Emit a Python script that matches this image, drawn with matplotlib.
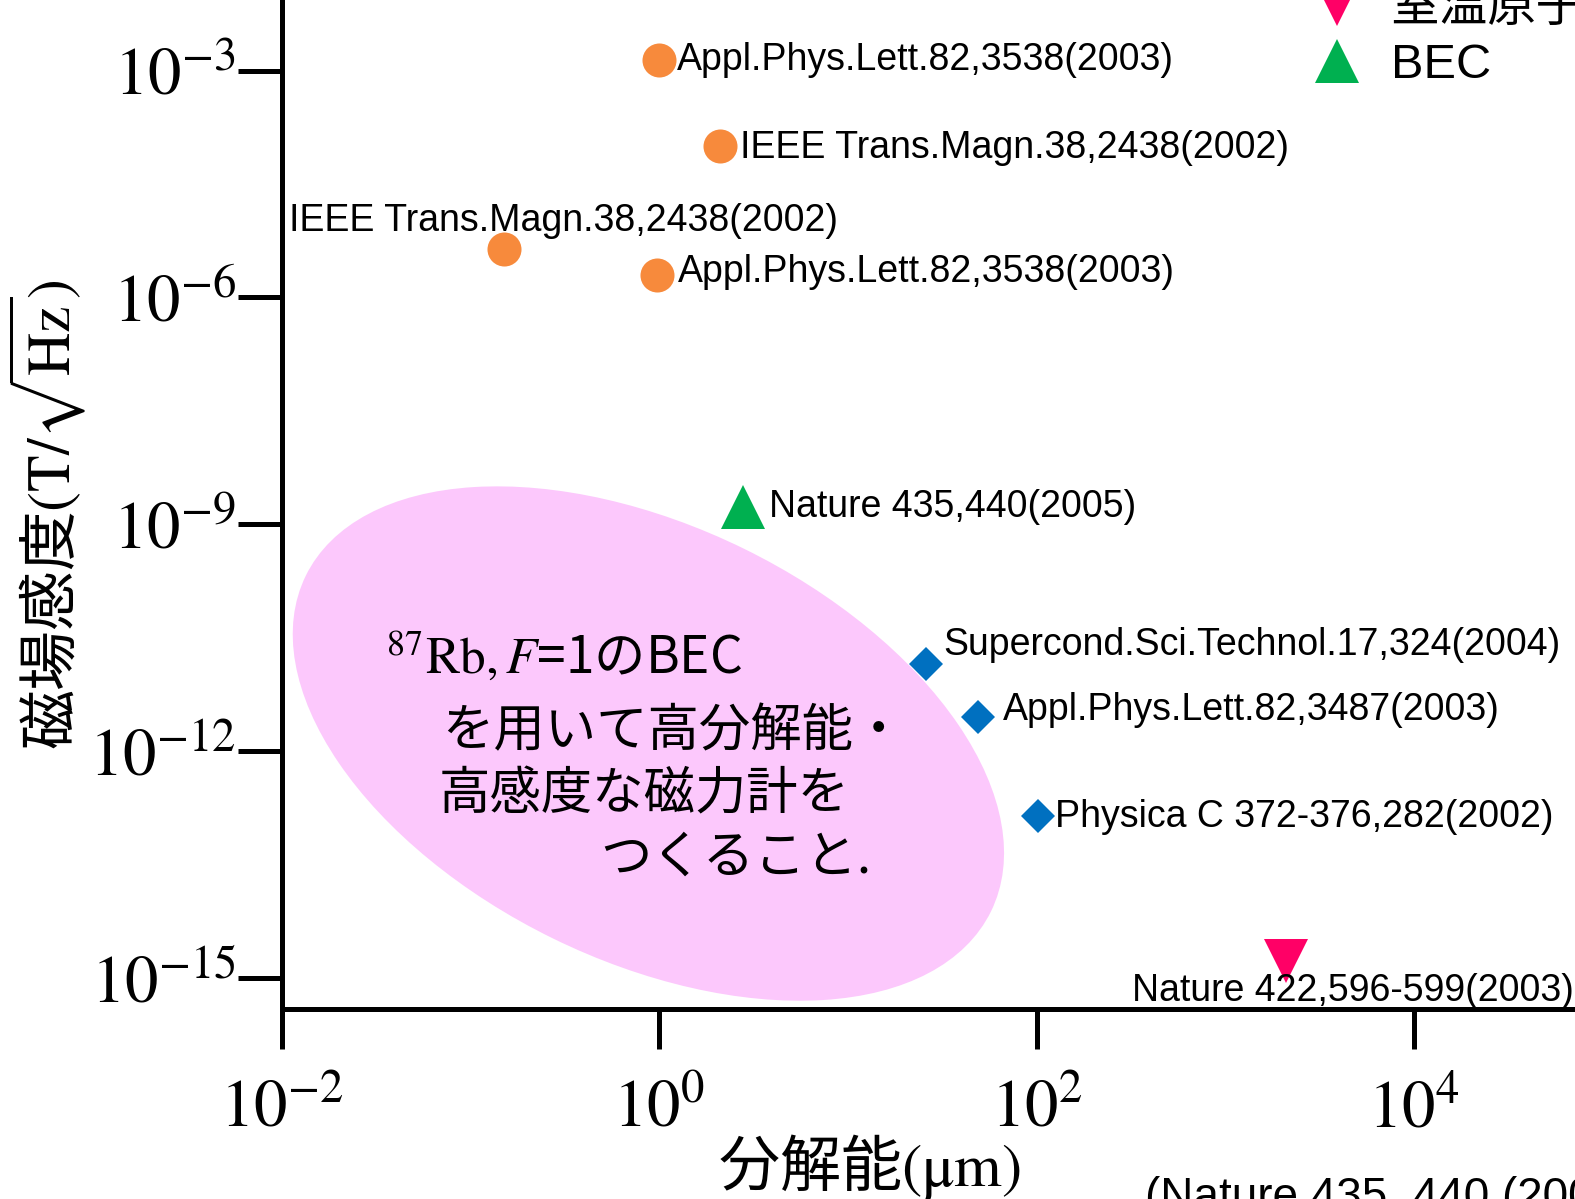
import matplotlib
matplotlib.use("Agg")
import matplotlib.pyplot as plt
import numpy as np
from matplotlib.patches import Ellipse
from matplotlib.transforms import ScaledTranslation
from matplotlib.ticker import FixedLocator, FuncFormatter, NullLocator

plt.rcParams['font.family'] = ['Liberation Sans', 'Noto Sans CJK JP']
plt.rcParams['mathtext.fontset'] = 'stix'

# --- データ ---
# SQUID / ホール素子など (オレンジ丸)
orange_x = [1.0, 2.1, 0.15, 0.97]
orange_y = [1.4e-3, 1.0e-4, 4.4e-6, 2.0e-6]
orange_ref = ["Appl.Phys.Lett.82,3538(2003)", "IEEE Trans.Magn.38,2438(2002)",
              "IEEE Trans.Magn.38,2438(2002)", "Appl.Phys.Lett.82,3538(2003)"]

# 青ダイヤ
blue_x = [26, 49, 102]
blue_y = [1.4e-11, 2.8e-12, 1.4e-13]
blue_ref = ["Supercond.Sci.Technol.17,324(2004)", "Appl.Phys.Lett.82,3487(2003)",
            "Physica C 372-376,282(2002)"]

# BEC (緑三角)
bec_x = [2.76]
bec_y = [1.7e-9]
bec_ref = ["Nature 435,440(2005)"]

# 室温原子 (ピンク逆三角)
room_x = [2100]
room_y = [1.7e-15]
room_ref = ["Nature 422,596-599(2003)"]

x_ticks = [1e-2, 1e0, 1e2, 1e4]
y_ticks = [1e-3, 1e-6, 1e-9, 1e-12, 1e-15]

# ラベルのずらし量 (points)
orange_off = [(13, 0), (14, -1), (-155, 20), (15, 2)]
blue_off = [(12, 14), (18, 5), (12, -1)]
bec_off = [(19, 0)]
room_off = [(-111, -22)]

fig = plt.figure(figsize=(15.75, 11.99), dpi=100)
ax = fig.add_axes([0.179, 0.1585, 0.8387, 0.8457])
ax.set_xscale('log')
ax.set_yscale('log')
ax.set_xlim(1e-2, 1e5)
ax.set_ylim(10 ** -15.41, 1e-2)

# 楕円 (目標領域)
cx, cy = 10 ** -0.058, 10 ** -11.90
ell = Ellipse((0, 0), 7.63, 4.34, angle=-26.1, facecolor='#FCC8FC', edgecolor='none',
              transform=fig.dpi_scale_trans + ScaledTranslation(cx, cy, ax.transData),
              zorder=0)
ax.add_patch(ell)

ax.plot(orange_x, orange_y, 'o', color='#F78A3C', markersize=24.5, markeredgewidth=0, zorder=3)
ax.plot(blue_x, blue_y, 'D', color='#0070C0', markersize=17, markeredgewidth=0, zorder=3)
ax.plot(room_x, room_y, 'v', color='#FF0066', markersize=31, markeredgewidth=0, zorder=3,
        label='室温原子')
ax.plot(bec_x, bec_y, '^', color='#00B050', markersize=31, markeredgewidth=0, zorder=3,
        label='BEC')

for xs, ys, refs, offs in [(orange_x, orange_y, orange_ref, orange_off),
                           (blue_x, blue_y, blue_ref, blue_off),
                           (bec_x, bec_y, bec_ref, bec_off),
                           (room_x, room_y, room_ref, room_off)]:
    for x, y, r, o in zip(xs, ys, refs, offs):
        ax.annotate(r, (x, y), xytext=o, textcoords='offset points',
                    ha='left', va='center', fontsize=27, zorder=4)

# 楕円の中の文章
cjk = 'Noto Sans CJK JP'
ax.text(0.079, 0.345, r"$^{87}\mathrm{Rb},\mathit{F}$=1のBEC", transform=ax.transAxes,
        ha='left', va='center', fontsize=37, fontfamily=cjk)
ax.text(0.121, 0.274, "を用いて高分解能・", transform=ax.transAxes,
        ha='left', va='center', fontsize=37, fontfamily=cjk)
ax.text(0.1185, 0.211, "高感度な磁力計を", transform=ax.transAxes,
        ha='left', va='center', fontsize=37, fontfamily=cjk)
ax.text(0.241, 0.1485, "つくること.", transform=ax.transAxes,
        ha='left', va='center', fontsize=37, fontfamily=cjk)

# 軸
for s in ['top', 'right']:
    ax.spines[s].set_visible(False)
for s in ['left', 'bottom']:
    ax.spines[s].set_linewidth(3.6)

fmt = FuncFormatter(lambda v, p: r"$10^{%d}$" % round(np.log10(v)))
ax.xaxis.set_major_locator(FixedLocator(x_ticks))
ax.yaxis.set_major_locator(FixedLocator(y_ticks))
ax.xaxis.set_minor_locator(NullLocator())
ax.yaxis.set_minor_locator(NullLocator())
ax.xaxis.set_major_formatter(fmt)
ax.yaxis.set_major_formatter(fmt)
ax.tick_params(axis='x', direction='out', length=29, width=3.6, pad=21, labelsize=48)
ax.tick_params(axis='y', direction='out', length=32, width=3.6, pad=1, labelsize=48)

ax.set_xlabel(r"分解能$(\mathrm{\mu m})$", fontsize=44, fontfamily=cjk, va='center')
ax.set_ylabel(r"磁場感度$(\mathrm{T}/\sqrt{\mathrm{Hz}})$", fontsize=43, fontfamily=cjk,
              va='center')
ax.xaxis.set_label_coords(0.445, -0.155)
ax.yaxis.set_label_coords(-0.178, 0.488)

ax.legend(loc='lower left', bbox_to_anchor=(0.8335, 0.9266), bbox_transform=fig.transFigure,
          frameon=False, borderpad=0, borderaxespad=0, handlelength=1.0,
          handletextpad=0.6, labelspacing=0.25, fontsize=35)

fig.text(1145 / 1575, 1 - 1176 / 1199, "(Nature 435, 440 (2005))", fontsize=33,
         ha='left', va='top')

fig.savefig("out.png", dpi=100)
